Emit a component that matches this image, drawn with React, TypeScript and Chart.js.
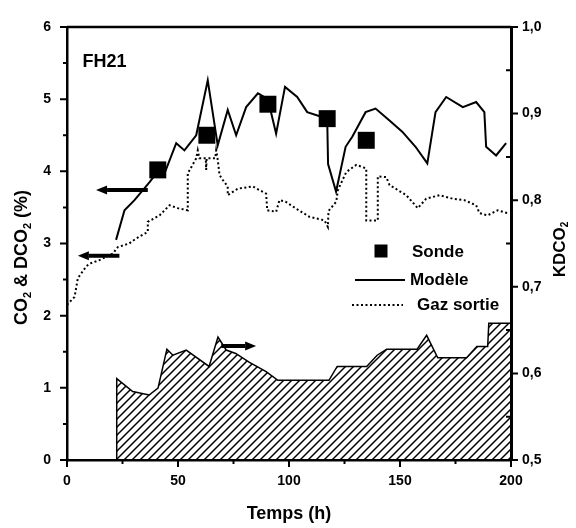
import React, { useEffect, useRef } from 'react';
import { Chart, registerables } from 'chart.js';

Chart.register(...registerables);

const FONT = "'Liberation Sans', Arial, Helvetica, sans-serif";

// Sonde (probe measurements), CO2 %
const sondeT = [40.9, 63.0, 90.5, 117.2, 134.8];
const sondeY = [4.02, 4.5, 4.93, 4.73, 4.43];

// Modèle, CO2 %
const modeleT = [22.1, 25.9, 30.4, 37.2, 40.9, 43.9, 49.2, 52.9, 58.2, 63.4, 67.9, 72.4, 76.2, 80.7, 86.0, 90.5, 94.2, 98.2, 103.7, 108.2, 114.2, 117.2, 117.6, 121.2, 125.5, 128.5, 134.5, 139.0, 145.0, 151.0, 157.0, 162.3, 166.0, 170.8, 178.3, 184.3, 188.0, 188.8, 193.3, 197.8];
const modeleY = [3.05, 3.46, 3.6, 3.85, 4.0, 3.97, 4.39, 4.29, 4.5, 5.26, 4.36, 4.85, 4.5, 4.89, 5.08, 5.0, 4.52, 5.17, 5.03, 4.82, 4.76, 4.74, 4.1, 3.72, 4.34, 4.48, 4.82, 4.87, 4.71, 4.55, 4.34, 4.11, 4.82, 5.03, 4.89, 4.96, 4.82, 4.34, 4.22, 4.39];

// Gaz sortie, CO2 %
const gazT = [0, 3.4, 4.9, 8.6, 10.1, 14.6, 20.6, 22.9, 28.0, 31.2, 36.4, 36.4, 41.7, 46.2, 49.9, 54.4, 54.4, 58.2, 58.9, 59.6, 62.5, 62.7, 62.9, 66.8, 67.2, 67.9, 68.7, 70.2, 72.4, 72.4, 77.0, 83.7, 89.7, 90.2, 94.2, 95.7, 98.4, 104.4, 109.2, 116.0, 117.5, 117.8, 121.3, 122.0, 125.8, 130.3, 134.8, 134.8, 140.0, 140.0, 143.8, 145.3, 152.8, 158.0, 161.8, 167.8, 173.8, 179.0, 184.3, 185.8, 189.5, 194.0, 198.5];
const gazY = [2.15, 2.26, 2.52, 2.68, 2.72, 2.77, 2.86, 2.95, 3.0, 3.07, 3.16, 3.3, 3.39, 3.53, 3.49, 3.46, 3.97, 4.18, 4.29, 4.18, 4.18, 4.02, 4.18, 4.18, 4.29, 4.16, 3.95, 3.88, 3.79, 3.67, 3.76, 3.79, 3.69, 3.46, 3.44, 3.6, 3.58, 3.46, 3.37, 3.32, 3.23, 3.45, 3.58, 3.74, 3.99, 4.09, 4.04, 3.32, 3.32, 3.93, 3.92, 3.81, 3.67, 3.49, 3.62, 3.67, 3.62, 3.6, 3.53, 3.42, 3.39, 3.46, 3.42];

// KDCO2 (right axis), hatched area
const kdT = [22.4, 22.4, 29.6, 37.0, 41.0, 45.0, 47.7, 53.7, 64.0, 68.0, 71.7, 76.0, 82.0, 89.7, 95.0, 118.0, 121.7, 135.0, 139.7, 144.0, 157.7, 162.0, 167.0, 180.0, 184.6, 189.5, 190.0, 200.0];
const kdY = [0.5, 0.594, 0.579, 0.575, 0.583, 0.628, 0.621, 0.627, 0.608, 0.642, 0.627, 0.623, 0.613, 0.602, 0.592, 0.592, 0.608, 0.608, 0.621, 0.628, 0.628, 0.644, 0.618, 0.618, 0.631, 0.631, 0.658, 0.658];

// Arrows (data units on left axis): tail x, head x, y
const arrowTail = [36.4, 23.6, 69.5];
const arrowHead = [13.1, 4.9, 85.2];
const arrowY = [3.74, 2.83, 1.58];

// Axis ticks
const xMajor = [0, 50, 100, 150, 200];
const xMinor = [25, 75, 125, 175];
const yMajor = [0, 1, 2, 3, 4, 5, 6];
const yMinor = [0.5, 1.5, 2.5, 3.5, 4.5, 5.5];
const y1Major = [0.5, 0.6, 0.7, 0.8, 0.9, 1.0];
const y1Minor = [0.55, 0.65, 0.75, 0.85, 0.95];

const pts = (xs: number[], ys: number[]) => xs.map((x, i) => ({ x, y: ys[i] }));

function drawSubText(ctx: CanvasRenderingContext2D, parts: { t: string; sub?: boolean }[], cx: number, cy: number, size: number) {
  ctx.save();
  ctx.translate(cx, cy);
  ctx.rotate(-Math.PI / 2);
  ctx.textBaseline = 'middle';
  ctx.textAlign = 'left';
  ctx.fillStyle = '#000';
  const fontFor = (sub?: boolean) => `bold ${sub ? Math.round(size * 0.6) : size}px ${FONT}`;
  let total = 0;
  for (const p of parts) {
    ctx.font = fontFor(p.sub);
    total += ctx.measureText(p.t).width;
  }
  let x = -total / 2;
  for (const p of parts) {
    ctx.font = fontFor(p.sub);
    ctx.fillText(p.t, x, p.sub ? size * 0.32 : 0);
    x += ctx.measureText(p.t).width;
  }
  ctx.restore();
}

const decor = {
  id: 'decor',
  afterDatasetsDraw(chart: any) {
    const ctx: CanvasRenderingContext2D = chart.ctx;
    const xs = chart.scales.x;
    const ys = chart.scales.y;
    ctx.save();
    ctx.fillStyle = '#000';
    for (let i = 0; i < arrowTail.length; i++) {
      const x1 = xs.getPixelForValue(arrowTail[i]);
      const x2 = xs.getPixelForValue(arrowHead[i]);
      const y = ys.getPixelForValue(arrowY[i]);
      const dir = Math.sign(x2 - x1);
      const hl = 11;
      const hw = 4.5;
      ctx.beginPath();
      ctx.rect(Math.min(x1, x2 - dir * hl), y - 2, Math.abs(x2 - dir * hl - x1), 4);
      ctx.fill();
      ctx.beginPath();
      ctx.moveTo(x2, y);
      ctx.lineTo(x2 - dir * hl, y - hw);
      ctx.lineTo(x2 - dir * hl, y + hw);
      ctx.closePath();
      ctx.fill();
    }
    ctx.restore();
  },
  afterDraw(chart: any) {
    const ctx: CanvasRenderingContext2D = chart.ctx;
    const { left, right, top, bottom } = chart.chartArea;
    const xs = chart.scales.x;
    const ys = chart.scales.y;
    const y1 = chart.scales.y1;
    ctx.save();
    ctx.strokeStyle = '#000';
    ctx.fillStyle = '#000';
    // top frame
    ctx.lineWidth = 2.5;
    ctx.beginPath();
    ctx.moveTo(left, top);
    ctx.lineTo(right, top);
    ctx.stroke();
    // ticks
    ctx.lineWidth = 2;
    ctx.beginPath();
    for (const v of xMajor) { const p = xs.getPixelForValue(v); ctx.moveTo(p, bottom); ctx.lineTo(p, bottom + 7); }
    for (const v of xMinor) { const p = xs.getPixelForValue(v); ctx.moveTo(p, bottom); ctx.lineTo(p, bottom + 4); }
    for (const v of yMajor) { const p = ys.getPixelForValue(v); ctx.moveTo(left, p); ctx.lineTo(left - 7, p); }
    for (const v of yMinor) { const p = ys.getPixelForValue(v); ctx.moveTo(left, p); ctx.lineTo(left - 4, p); }
    for (const v of y1Major) { const p = y1.getPixelForValue(v); ctx.moveTo(right, p); ctx.lineTo(right + 7, p); }
    for (const v of y1Minor) { const p = y1.getPixelForValue(v); ctx.moveTo(right, p); ctx.lineTo(right - 5, p); }
    ctx.stroke();

    // FH21 label
    ctx.font = `bold 18px ${FONT}`;
    ctx.textBaseline = 'middle';
    ctx.textAlign = 'left';
    ctx.fillText('FH21', xs.getPixelForValue(7), ys.getPixelForValue(5.52));

    // legend
    const lx = left + 288;
    const ly = top + 224;
    ctx.font = `bold 17px ${FONT}`;
    ctx.fillRect(lx + 26 - 6.5, ly - 6.5, 13, 13);
    ctx.fillText('Sonde', lx + 57, ly + 1);
    ctx.lineWidth = 2;
    ctx.beginPath();
    ctx.moveTo(lx, ly + 29);
    ctx.lineTo(lx + 50, ly + 29);
    ctx.stroke();
    ctx.fillText('Modèle', lx + 55, ly + 29);
    ctx.setLineDash([2, 2.5]);
    ctx.beginPath();
    ctx.moveTo(lx - 3, ly + 54);
    ctx.lineTo(lx + 48, ly + 54);
    ctx.stroke();
    ctx.setLineDash([]);
    ctx.fillText('Gaz sortie', lx + 62, ly + 54);

    // axis titles
    drawSubText(ctx, [{ t: 'CO' }, { t: '2', sub: true }, { t: ' & DCO' }, { t: '2', sub: true }, { t: ' (%)' }], 22.5, (top + bottom) / 2 + 14, 18);
    drawSubText(ctx, [{ t: 'KDCO' }, { t: '2', sub: true }], right + 49, (top + bottom) / 2 + 6, 17);
    ctx.restore();
  },
};

export default function App() {
  const ref = useRef<HTMLCanvasElement>(null);
  useEffect(() => {
    const canvas = ref.current;
    if (!canvas) return;
    const ctx = canvas.getContext('2d')!;
    const pc = document.createElement('canvas');
    const s = 8;
    pc.width = s;
    pc.height = s;
    const pctx = pc.getContext('2d')!;
    pctx.strokeStyle = '#000';
    pctx.lineWidth = 1.5;
    pctx.beginPath();
    pctx.moveTo(0, s);
    pctx.lineTo(s, 0);
    pctx.moveTo(-1, 1);
    pctx.lineTo(1, -1);
    pctx.moveTo(s - 1, s + 1);
    pctx.lineTo(s + 1, s - 1);
    pctx.stroke();
    const pattern = ctx.createPattern(pc, 'repeat')!;

    const tickFont = { family: FONT, size: 14, weight: 'bold' as const };
    const chart = new Chart(ctx, {
      type: 'line',
      data: {
        datasets: [
          {
            label: 'Sonde',
            data: pts(sondeT, sondeY),
            yAxisID: 'y',
            showLine: false,
            pointStyle: 'rect',
            pointRadius: 12,
            pointBackgroundColor: '#000',
            pointBorderWidth: 0,
            borderColor: '#000',
            order: 0,
          },
          {
            label: 'Modèle',
            data: pts(modeleT, modeleY),
            yAxisID: 'y',
            borderColor: '#000',
            borderWidth: 2,
            pointRadius: 0,
            tension: 0,
            fill: false,
            order: 1,
          },
          {
            label: 'Gaz sortie',
            data: pts(gazT, gazY),
            yAxisID: 'y',
            borderColor: '#000',
            borderWidth: 2,
            borderDash: [2, 2.5],
            pointRadius: 0,
            tension: 0,
            fill: false,
            order: 2,
          },
          {
            label: 'KDCO2',
            data: pts(kdT, kdY),
            yAxisID: 'y1',
            borderColor: '#000',
            borderWidth: 1.5,
            backgroundColor: pattern as any,
            fill: 'start',
            pointRadius: 0,
            tension: 0,
            order: 3,
          },
        ],
      },
      options: {
        responsive: false,
        animation: false,
        layout: { padding: { top: 27, left: 0, right: 0, bottom: 0 } },
        plugins: { legend: { display: false }, tooltip: { enabled: false } },
        scales: {
          x: {
            type: 'linear',
            min: 0,
            max: 200,
            ticks: { stepSize: 50, font: tickFont, color: '#000', padding: 7, maxRotation: 0 },
            grid: { display: false, drawTicks: true, tickLength: 6 },
            border: { display: true, color: '#000', width: 2.5 },
            title: { display: true, text: 'Temps (h)', color: '#000', font: { family: FONT, size: 18, weight: 'bold' }, padding: { top: 0, bottom: 3 } },
            afterFit: (sc: any) => { sc.height = 68; },
          },
          y: {
            type: 'linear',
            position: 'left',
            min: 0,
            max: 6,
            ticks: { stepSize: 1, font: tickFont, color: '#000', padding: 10 },
            grid: { display: false, drawTicks: true, tickLength: 6 },
            border: { display: true, color: '#000', width: 2.5 },
            afterFit: (sc: any) => { sc.width = 67; },
          },
          y1: {
            type: 'linear',
            position: 'right',
            min: 0.5,
            max: 1.0,
            ticks: {
              stepSize: 0.1,
              font: tickFont,
              color: '#000',
              padding: 5,
              callback: (v: any) => Number(v).toFixed(1).replace('.', ','),
            },
            grid: { display: false, drawTicks: true, tickLength: 6 },
            border: { display: true, color: '#000', width: 3 },
            afterFit: (sc: any) => { sc.width = 65; },
          },
        },
      },
      plugins: [decor],
    });
    return () => chart.destroy();
  }, []);

  return (
    <div style={{ position: 'absolute', left: 0, top: 0, width: 576, height: 528, background: '#fff' }}>
      <canvas ref={ref} width={576} height={528} style={{ display: 'block', width: 576, height: 528 }} />
    </div>
  );
}
